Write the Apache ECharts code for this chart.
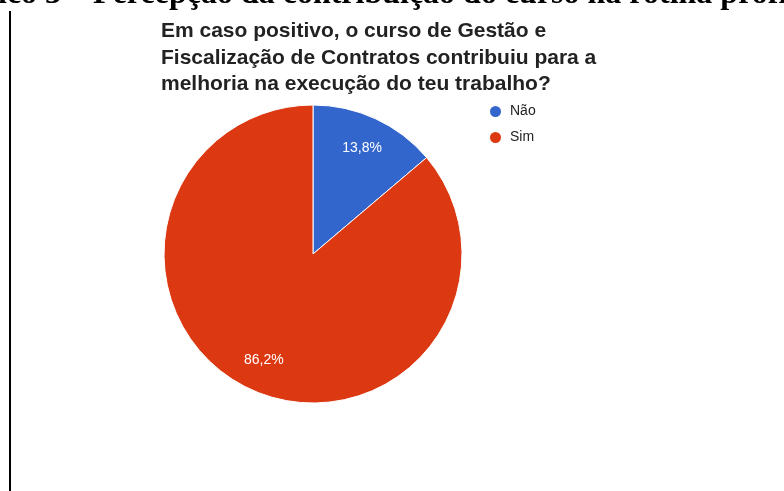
<!DOCTYPE html>
<html><head><meta charset="utf-8">
<script src="https://cdn.jsdelivr.net/npm/echarts@6/dist/echarts.min.js"></script>
<style>html,body{margin:0;padding:0;background:#fff}#c{width:784px;height:491px}</style>
</head><body><div id="c"></div>
<script>
const categories = ["Não", "Sim"];
const values = [13.8, 86.2];
const colors = ["#3366cc", "#dc3912"];
const chartTitle = "Em caso positivo, o curso de Gestão e\nFiscalização de Contratos contribuiu para a\nmelhoria na execução do teu trabalho?";
const caption = "ico 3 – Percepção da contribuição do curso na rotina profi";

const fmt = p => p.value.toFixed(1).replace('.', ',') + '%';
const chart = echarts.init(document.getElementById('c'));
chart.setOption({
  animation: false,
  backgroundColor: '#fff',
  title: {
    text: chartTitle, left: 161, top: 18, padding: 0,
    textStyle: {fontFamily: 'Liberation Sans, Arial', fontWeight: 'bold', fontSize: 21, color: '#222', lineHeight: 26.5}
  },
  legend: {
    orient: 'vertical', left: 488, top: 104, padding: 0, itemGap: 11, icon: 'circle', itemWidth: 13, itemHeight: 13,
    textStyle: {fontFamily: 'Liberation Sans, Arial', fontSize: 14, color: '#222', padding: [0, 0, 0, 3]},
    data: categories
  },
  graphic: [
    {type: 'text', left: -2, top: -21, style: {text: caption, fontFamily: 'Liberation Serif, Times New Roman', fontWeight: 'bold', fontSize: 32, fill: '#000'}},
    {type: 'rect', shape: {x: 9, y: 11, width: 2, height: 480}, style: {fill: '#000'}}
  ],
  series: [{
    type: 'pie', center: [313, 254], radius: [0, 149], startAngle: 90, clockwise: true,
    label: {show: false}, labelLine: {show: false},
    itemStyle: {borderColor: '#fff', borderWidth: 1},
    emphasis: {disabled: true},
    data: categories.map((c, i) => ({name: c, value: values[i], itemStyle: {color: colors[i]}}))
  }, {
    type: 'pie', center: [313, 254], radius: [78, 150], startAngle: 90, clockwise: true, silent: true,
    legendHoverLink: false,
    label: {show: true, position: 'inside', formatter: fmt, color: '#fff', fontFamily: 'Liberation Sans, Arial', fontSize: 14},
    labelLine: {show: false},
    itemStyle: {color: 'rgba(0,0,0,0)', borderWidth: 0},
    emphasis: {disabled: true},
    data: categories.map((c, i) => ({name: c + ' ', value: values[i]}))
  }]
});
</script></body></html>
